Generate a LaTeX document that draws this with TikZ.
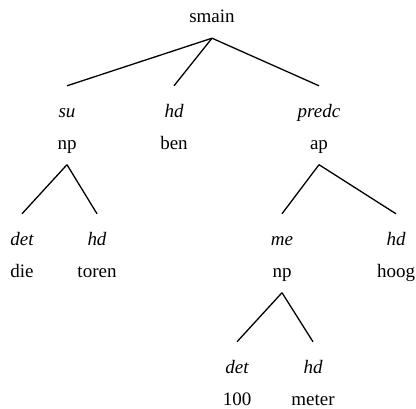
\documentclass[tikz,border=0pt]{standalone}
\usepackage{fontspec}
\setmainfont{Liberation Serif}
\usepackage{tikz}
\usetikzlibrary{positioning}

\begin{document}
\begin{tikzpicture}[x=1pt, y=-1pt]
\tikzstyle{word}=[inner xsep=0pt, inner ysep=11pt, text height=13pt, text depth=4pt, font=\fontsize{19}{22}\selectfont, node distance = 31.5pt]
\tikzstyle{rel}=[word, inner ysep=19pt, font=\fontsize{19}{22}\selectfont\itshape]
\tikzstyle{connect}=[line width=1.3pt]

  \useasboundingbox (0,0) rectangle (416,409);

  \node[word] (smain) at (212,18.5) {smain};

  \node[rel]  (su)      at (67,113.5)   {su};
  \node[word] (np)      [below of =su]     {np};
  \node[rel]  (hdben)   at (174,113.5)  {hd};
  \node[word] (ben)     [below of =hdben]  {ben};
  \node[rel]  (predc)   at (319,113.5)  {predc};
  \node[word] (ap)      [below of =predc]  {ap};

  \node[rel]  (detdie)  at (22,241.5)   {det};
  \node[word] (die)     [below of =detdie] {die};
  \node[rel]  (hdtoren) at (97,241.5)   {hd};
  \node[word] (toren)   [below of =hdtoren] {toren};
  \node[rel]  (me)      at (282,241.5)  {me};
  \node[word] (npme)    [below of =me]     {np};
  \node[rel]  (hdhoog)  at (396,241.5)  {hd};
  \node[word] (hoog)    [below of =hdhoog] {hoog};

  \node[rel]  (dethundred) at (237,369.5) {det};
  \node[word] (hundred)  [below of =dethundred] {100};
  \node[rel]  (hdmeter)  at (313,369.5)  {hd};
  \node[word] (meter)    [below of =hdmeter] {meter};



  \path (smain.south) edge [connect] (su.north);
  \path (smain.south) edge [connect] (hdben.north);
  \path (smain.south) edge [connect] (predc.north);
  \path (np.south) edge [connect] (detdie.north);
  \path (np.south) edge [connect] (hdtoren.north);
  \path (ap.south) edge [connect] (me.north);
  \path (ap.south) edge [connect] (hdhoog.north);
  \path (npme.south) edge [connect] (dethundred.north);
  \path (npme.south) edge [connect] (hdmeter.north);

\end{tikzpicture}
\end{document}
